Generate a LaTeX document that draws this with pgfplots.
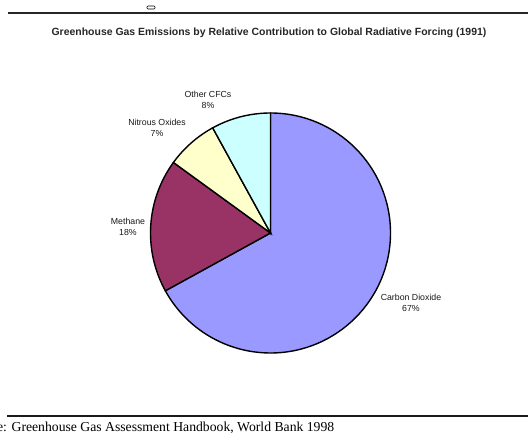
\documentclass[border=0pt]{standalone}
\usepackage{pgfplots}
\pgfplotsset{compat=1.18}
\usepackage{fontspec}
\setmainfont{Liberation Serif}
\newfontfamily\arial{Liberation Sans}
\definecolor{co2}{HTML}{9999FF}
\definecolor{ch4}{HTML}{993366}
\definecolor{n2o}{HTML}{FFFFCC}
\definecolor{cfc}{HTML}{CCFFFF}
\begin{document}
\begin{tikzpicture}
% shares (percent)
\def\vCO{67}\def\vCH{18}\def\vNO{7}\def\vCF{8}
\pgfmathsetmacro\aA{90}
\pgfmathsetmacro\aB{\aA-3.6*\vCO}
\pgfmathsetmacro\aC{\aB-3.6*\vCH}
\pgfmathsetmacro\aD{\aC-3.6*\vNO}
\pgfmathsetmacro\aE{\aD-3.6*\vCF}
\def\cx{270.5}\def\cy{200}\def\R{120bp}
\begin{axis}[
 width=528bp, height=433bp, scale only axis,
 xmin=0, xmax=528, ymin=0, ymax=433,
 axis lines=none, clip=false]
\fill[co2, draw=black, line width=1.4bp] (axis cs:\cx,\cy) -- ++(\aA:\R) arc[start angle=\aA, end angle=\aB, radius=\R] -- cycle;
\fill[ch4, draw=black, line width=1.4bp] (axis cs:\cx,\cy) -- ++(\aB:\R) arc[start angle=\aB, end angle=\aC, radius=\R] -- cycle;
\fill[n2o, draw=black, line width=1.4bp] (axis cs:\cx,\cy) -- ++(\aC:\R) arc[start angle=\aC, end angle=\aD, radius=\R] -- cycle;
\fill[cfc, draw=black, line width=1.4bp] (axis cs:\cx,\cy) -- ++(\aD:\R) arc[start angle=\aD, end angle=\aE, radius=\R] -- cycle;
% labels
\begin{scope}[every node/.style={font=\arial\fontsize{8.8}{10.8}\selectfont, align=center, text=black!90}]
\node at (axis cs:208,333) {Other CFCs\\\vCF\%};
\node at (axis cs:157,305) {Nitrous Oxides\\\vNO\%};
\node at (axis cs:128,206.5) {Methane\\\vCH\%};
\node at (axis cs:411,130) {Carbon Dioxide\\\vCO\%};
\end{scope}
% title and rules
\node[font=\arial\bfseries\fontsize{10.5}{12}\selectfont, anchor=base, text=black!85] at (axis cs:269,397) {Greenhouse Gas Emissions by Relative Contribution to Global Radiative Forcing (1991)};
\draw[line width=1.1bp, black!85] (axis cs:8,420) -- (axis cs:528,420);
\draw[line width=0.6bp, rounded corners=1bp] (axis cs:147,424) rectangle (axis cs:155,427);
\draw[line width=1.4bp, black!90] (axis cs:7,17) -- (axis cs:528,17);
\node[font=\fontsize{13.75}{15}\selectfont, anchor=base west, inner sep=0pt] at (axis cs:-35,2) {Source: Greenhouse Gas Assessment Handbook, World Bank 1998};
\end{axis}
\pgfresetboundingbox
\useasboundingbox (current axis.south west) rectangle (current axis.north east);
\end{tikzpicture}
\end{document}
